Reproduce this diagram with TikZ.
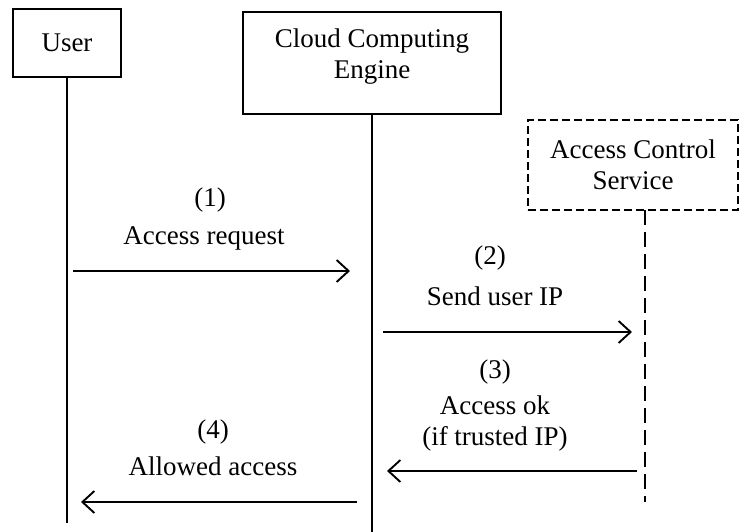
\documentclass[tikz,border=0pt]{standalone}
\usepackage{fontspec}
\setmainfont{Liberation Serif}
\usetikzlibrary{arrows.meta}
\begin{document}
\begin{tikzpicture}[x=1pt,y=-1pt,
  every node/.style={font=\fontsize{27}{31}\selectfont, align=center},
  actor/.style={draw, line width=1.3pt, inner sep=0pt},
  lifeline/.style={line width=1.9pt},
  msg/.style={line width=1.9pt, -{Straight Barb[length=12pt,width=22pt,line width=1.9pt]}},
  lbl/.style={inner sep=0pt}
]
\useasboundingbox (0,0) rectangle (747,532);

% participants
\node[actor, minimum width=108pt, minimum height=68pt] (user) at (67,43) {User};
\node[actor, minimum width=258pt, minimum height=102pt, text depth=18pt] (cce) at (372,63) {Cloud Computing\\Engine};
\node[actor, dashed, dash pattern=on 8pt off 4pt, minimum width=210pt, minimum height=90pt] (acs) at (633,165) {Access Control\\Service};

% lifelines
\coordinate (userTop) at (67,77);
\coordinate (userEnd) at (67,523);
\coordinate (cceTop) at (372,114);
\coordinate (cceEnd) at (372,532);
\coordinate (acsTop) at (645,210);
\coordinate (acsEnd) at (645,502);
\draw[lifeline] (userTop) -- (userEnd);
\draw[lifeline] (cceTop) -- (cceEnd);
\draw[lifeline, dash pattern=on 15pt off 7pt] (acsTop) -- (acsEnd);

% message end points
\coordinate (m1s) at (73,271);
\coordinate (m1e) at (350,271);
\coordinate (m2s) at (383,332);
\coordinate (m2e) at (632,332);
\coordinate (m3s) at (637,471);
\coordinate (m3e) at (387,471);
\coordinate (m4s) at (357,502);
\coordinate (m4e) at (81,502);

% messages
\draw[msg] (m1s) -- (m1e);
\draw[msg] (m2s) -- (m2e);
\draw[msg] (m3s) -- (m3e);
\draw[msg] (m4s) -- (m4e);

% message labels
\node[lbl] (n1) at (210,200) {(1)};
\node[lbl] (t1) at (204,238) {Access request};
\node[lbl] (n2) at (490,258) {(2)};
\node[lbl] (t2) at (495,296) {Send user IP};
\node[lbl] (n3) at (495,372) {(3)};
\node[lbl] (t3) at (495,424) {Access ok\\(if trusted IP)};
\node[lbl] (n4) at (213,432) {(4)};
\node[lbl] (t4) at (213,466) {Allowed access};
\end{tikzpicture}
\end{document}
